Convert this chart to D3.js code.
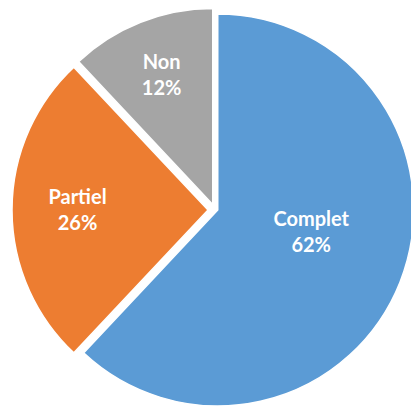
<!DOCTYPE html>
<html>
<head>
<meta charset="utf-8">
<script src="https://cdn.jsdelivr.net/npm/d3@7"></script>
<style>
  html, body { margin: 0; padding: 0; background: #fff; }
  svg { display: block; }
</style>
</head>
<body>
<svg id="chart" width="411" height="407"></svg>
<script>
// ---- data ----
const categories = ["Complet", "Partiel", "Non"];
const values = [62, 26, 12];
const labels = ["62%", "26%", "12%"];
const colors = ["#5B9BD5", "#ED7D31", "#A5A5A5"];

// ---- layout (not data) ----
const W = 411, H = 407;
const center = [217.75, 210];
const radius = 196;
const sliceOffset = [[0, 0], [-9.75, 0], [-5, -5.5]];
const labelDist = [96, 130.5, 139];
const labelAngleShift = [-8.4, 0, 0]; // degrees

const svg = d3.select("#chart");

const pie = d3.pie().sort(null).value(d => d).startAngle(0).endAngle(2 * Math.PI);
const arcs = pie(values);
const arc = d3.arc().innerRadius(0).outerRadius(radius);

const g = svg.append("g").attr("transform", `translate(${center[0]},${center[1]})`);

const slices = g.selectAll("g.slice").data(arcs).enter().append("g")
  .attr("class", "slice")
  .attr("transform", (d, i) => `translate(${sliceOffset[i][0]},${sliceOffset[i][1]})`);

slices.append("path")
  .attr("d", arc)
  .attr("fill", (d, i) => colors[i])
  .attr("stroke", "#fff")
  .attr("stroke-width", 1.5)
  .attr("stroke-linejoin", "miter");

slices.each(function(d, i) {
  const mid = (d.startAngle + d.endAngle) / 2 + labelAngleShift[i] * Math.PI / 180;
  const x = Math.sin(mid) * labelDist[i];
  const y = -Math.cos(mid) * labelDist[i];
  const t = d3.select(this).append("text")
    .attr("text-anchor", "middle")
    .attr("font-family", "Lato, 'Open Sans', sans-serif")
    .attr("font-weight", "bold")
    .attr("font-size", 20)
    .attr("fill", "#fff");
  t.append("tspan").attr("x", x).attr("y", y - 6).text(categories[i]);
  t.append("tspan").attr("x", x).attr("y", y + 20).text(labels[i]);
});
</script>
</body>
</html>
